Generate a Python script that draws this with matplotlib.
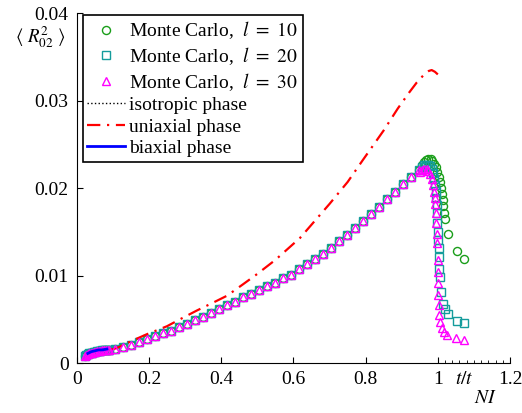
import matplotlib
matplotlib.use("Agg")
import matplotlib.pyplot as plt
from matplotlib.lines import Line2D

plt.rcParams['font.family'] = ['Liberation Serif', 'DejaVu Serif']
plt.rcParams['mathtext.fontset'] = 'stix'

# ---- data ----
t_start = [0.022, 0.026, 0.030, 0.034, 0.038, 0.042, 0.046, 0.050, 0.055, 0.060,
           0.065, 0.070, 0.075, 0.080, 0.085, 0.090]
v_start = [0.0008, 0.0009, 0.0010, 0.0011, 0.0012, 0.0012, 0.0013, 0.0013, 0.0014, 0.0014,
           0.0014, 0.0015, 0.0015, 0.0015, 0.0015, 0.0015]
t_common = [0.105, 0.127, 0.149, 0.172, 0.194, 0.216, 0.238, 0.260, 0.283, 0.305,
            0.327, 0.349, 0.371, 0.394, 0.416, 0.438, 0.460, 0.482, 0.505, 0.527,
            0.549, 0.571, 0.593, 0.616, 0.638, 0.660, 0.682, 0.704, 0.727, 0.749,
            0.771, 0.793, 0.815, 0.838, 0.860, 0.882, 0.904, 0.926, 0.948]
v_common = [0.0016, 0.0018, 0.0021, 0.0024, 0.0027, 0.0031, 0.0034, 0.0037, 0.0041, 0.0045,
            0.0049, 0.0053, 0.0057, 0.0062, 0.0066, 0.0070, 0.0075, 0.0079, 0.0084, 0.0088,
            0.0092, 0.0097, 0.0101, 0.0107, 0.0113, 0.0119, 0.0125, 0.0132, 0.0139, 0.0146,
            0.0154, 0.0162, 0.0170, 0.0178, 0.0187, 0.0196, 0.0205, 0.0213, 0.0221]

t_l10_end = [0.955, 0.962, 0.968, 0.974, 0.980, 0.985, 0.990, 0.994, 0.998, 1.002,
             1.005, 1.008, 1.011, 1.013, 1.014, 1.016, 1.019, 1.028, 1.053, 1.072]
v_l10_end = [0.0227, 0.0230, 0.0232, 0.0233, 0.0233, 0.0231, 0.0228, 0.0224, 0.0219, 0.0213,
             0.0207, 0.0200, 0.0193, 0.0186, 0.0179, 0.0172, 0.0165, 0.0147, 0.0128, 0.0119]

t_l20_end = [0.955, 0.962, 0.968, 0.974, 0.979, 0.983, 0.987, 0.990, 0.992, 0.994,
             0.996, 0.997, 0.998, 0.999, 1.000, 1.000, 1.002, 1.003, 1.004, 1.006,
             1.009, 1.014, 1.019, 1.028, 1.053, 1.072]
v_l20_end = [0.0224, 0.0226, 0.0227, 0.0227, 0.0225, 0.0222, 0.0217, 0.0211, 0.0204, 0.0197,
             0.0189, 0.0181, 0.0171, 0.0160, 0.0150, 0.0141, 0.0131, 0.0121, 0.0108, 0.0098,
             0.0081, 0.0068, 0.0062, 0.0056, 0.0048, 0.0046]

t_l30_end = [0.950, 0.957, 0.963, 0.969, 0.974, 0.979, 0.983, 0.986, 0.989, 0.991,
             0.993, 0.995, 0.996, 0.997, 0.998, 1.000, 1.000, 1.001, 1.001, 1.002,
             1.004, 1.006, 1.011, 1.016, 1.025, 1.050, 1.072]
v_l30_end = [0.0218, 0.0221, 0.0222, 0.0222, 0.0220, 0.0216, 0.0210, 0.0203, 0.0196, 0.0189,
             0.0182, 0.0172, 0.0160, 0.0148, 0.0137, 0.0118, 0.0104, 0.0091, 0.0078, 0.0066,
             0.0055, 0.0047, 0.0040, 0.0035, 0.0032, 0.0029, 0.0026]

t_uni = [0.090, 0.110, 0.150, 0.194, 0.249, 0.290, 0.332, 0.377, 0.416, 0.460, 0.500,
         0.550, 0.618, 0.700, 0.750, 0.792, 0.850, 0.889, 0.920, 0.942, 0.960, 0.975,
         0.983, 0.992, 1.000]
v_uni = [0.0015, 0.0017, 0.0025, 0.0033, 0.0042, 0.0051, 0.0060, 0.0069, 0.0077, 0.0090, 0.0102,
         0.0118, 0.0143, 0.0182, 0.0207, 0.0232, 0.0266, 0.0291, 0.0309, 0.0321, 0.0329, 0.0334,
         0.0335, 0.0333, 0.0330]

t_bi = [0.030, 0.040, 0.050, 0.060, 0.070, 0.083]
v_bi = [0.0011, 0.0013, 0.0014, 0.0015, 0.0015, 0.0016]

t_iso = []
v_iso = []

xticks = [0, 0.2, 0.4, 0.6, 0.8, 1.0, 1.2]
xticklabels = ['0', '0.2', '0.4', '0.6', '0.8', '1', '1.2']
yticks = [0, 0.01, 0.02, 0.03, 0.04]
yticklabels = ['0', '0.01', '0.02', '0.03', '0.04']
minor_xticks = [1.02, 1.04, 1.06, 1.08, 1.10, 1.12, 1.14, 1.16, 1.18]

# ---- figure ----
fig = plt.figure(figsize=(5.22, 4.13), dpi=100)
ax = fig.add_axes([0.1475, 0.121, 0.8295, 0.847])

green = '#1a9e1a'
cyan = '#149c9c'
magenta = '#ff00ff'
ms = 5.8

t10 = t_start + t_common + t_l10_end
v10 = v_start + v_common + v_l10_end
t20 = t_start + t_common + t_l20_end
v20 = v_start + v_common + v_l20_end
t30 = t_start + t_common + t_l30_end
v30 = v_start + v_common + v_l30_end

ax.plot(t10, v10, linestyle='none', marker='o', ms=ms, mfc='none', mec=green, mew=1.0)
ax.plot(t20, v20, linestyle='none', marker='s', ms=ms - 0.5, mfc='none', mec=cyan, mew=1.0)
ax.plot(t_iso, v_iso, color='black', linestyle=':', lw=1)
ax.plot(t_uni, v_uni, color='red', linestyle=(0, (6, 3, 1, 3)), lw=1.6)
ax.plot(t30, v30, linestyle='none', marker='^', ms=ms + 0.5, mfc='none', mec=magenta, mew=1.0)
ax.plot(t_bi, v_bi, color='blue', lw=2)

ax.set_xlim(0, 1.2)
ax.set_ylim(0, 0.04)
ax.set_xticks(xticks)
ax.set_xticklabels(xticklabels)
ax.set_yticks(yticks)
ax.set_yticklabels(yticklabels)
ax.set_xticks(minor_xticks, minor=True)
ax.tick_params(which='major', direction='in', length=4, width=0.8, labelsize=14, pad=6)
ax.tick_params(which='minor', direction='in', length=2, width=0.6)
ax.spines['top'].set_visible(False)
ax.spines['right'].set_visible(False)

fig.text(455 / 522, 1 - 384 / 413, r'$t/t$', fontsize=14, ha='left', va='baseline')
fig.text(474 / 522, 1 - 403 / 413, r'$NI$', fontsize=14, ha='left', va='baseline')
fig.text(40 / 522, 1 - 37 / 413, r'$\langle\ R^2_{02}\ \rangle$', fontsize=13.5,
         ha='center', va='center')

handles = [
    Line2D([], [], linestyle='none', marker='o', ms=ms, mfc='none', mec=green, mew=1.0),
    Line2D([], [], linestyle='none', marker='s', ms=ms - 0.5, mfc='none', mec=cyan, mew=1.0),
    Line2D([], [], linestyle='none', marker='^', ms=ms + 0.5, mfc='none', mec=magenta, mew=1.0),
    Line2D([], [], color='black', linestyle=':', lw=1),
    Line2D([], [], color='red', linestyle=(0, (6, 3, 1, 3)), lw=1.6),
    Line2D([], [], color='blue', lw=2),
]
labels = [
    r'Monte Carlo,  $l\ =\ 10$',
    r'Monte Carlo,  $l\ =\ 20$',
    r'Monte Carlo,  $l\ =\ 30$',
    'isotropic phase',
    'uniaxial phase',
    'biaxial phase',
]
leg = ax.legend(handles, labels, loc='upper left', bbox_to_anchor=(0.013, 0.996),
                borderaxespad=0, fontsize=14, handlelength=1.95, handletextpad=0.2,
                labelspacing=0.2, borderpad=0.25, fancybox=False, framealpha=1)
leg.get_frame().set_edgecolor('black')
leg.get_frame().set_linewidth(1.2)

fig.savefig('out.png', dpi=100)
